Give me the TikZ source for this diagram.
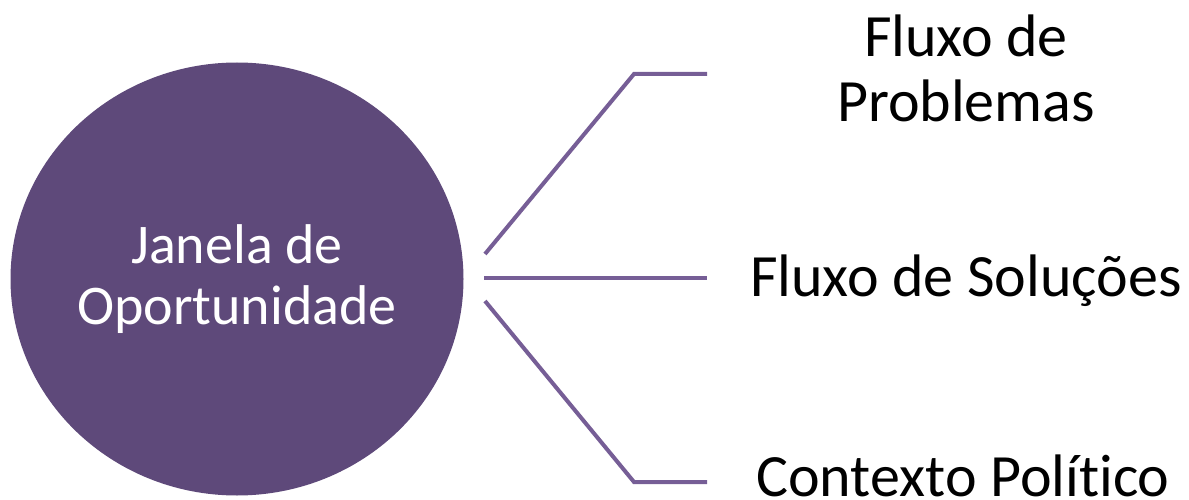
\documentclass[tikz,border=0pt]{standalone}
\usepackage{fontspec}
\setmainfont[Ligatures={NoCommon}]{Carlito}
\usetikzlibrary{shapes.geometric}
\definecolor{circfill}{RGB}{94,73,122}
\definecolor{linecol}{RGB}{118,94,150}
\tikzset{
  bigtext/.style={font=\fontsize{60}{66}\selectfont, inner sep=0pt},
  circtext/.style={font=\fontsize{56}{61}\selectfont},
  branch/.style={draw=linecol, line width=4pt},
}
\begin{document}
\begin{tikzpicture}[x=1pt,y=-1pt]
\useasboundingbox (0,0) rectangle (1189,500);
\node[ellipse, fill=circfill, minimum width=453pt, minimum height=433pt, inner sep=0pt,
      text=white, align=center, circtext] (janela) at (237,279)
      {Janela de\\Oportunidade};
\coordinate (s1) at (485,254);
\coordinate (c1) at (634,74);
\coordinate (e1) at (707,74);
\coordinate (s2) at (484,278);
\coordinate (e2) at (707,278);
\coordinate (s3) at (485,301);
\coordinate (c3) at (634,482);
\coordinate (e3) at (707,482);
\draw[branch] (s1) -- (c1) -- (e1);
\draw[branch] (s2) -- (e2);
\draw[branch] (s3) -- (c3) -- (e3);
\node[bigtext, anchor=base] (prob) at (966,57) {Fluxo de};
\node[bigtext, anchor=base] (prob2) at (966,122) {Problemas};
\node[bigtext, anchor=base] (sol) at (966,296) {Fluxo de Soluções};
\node[bigtext, anchor=base] (pol) at (963,496) {Contexto Político};
\end{tikzpicture}
\end{document}
